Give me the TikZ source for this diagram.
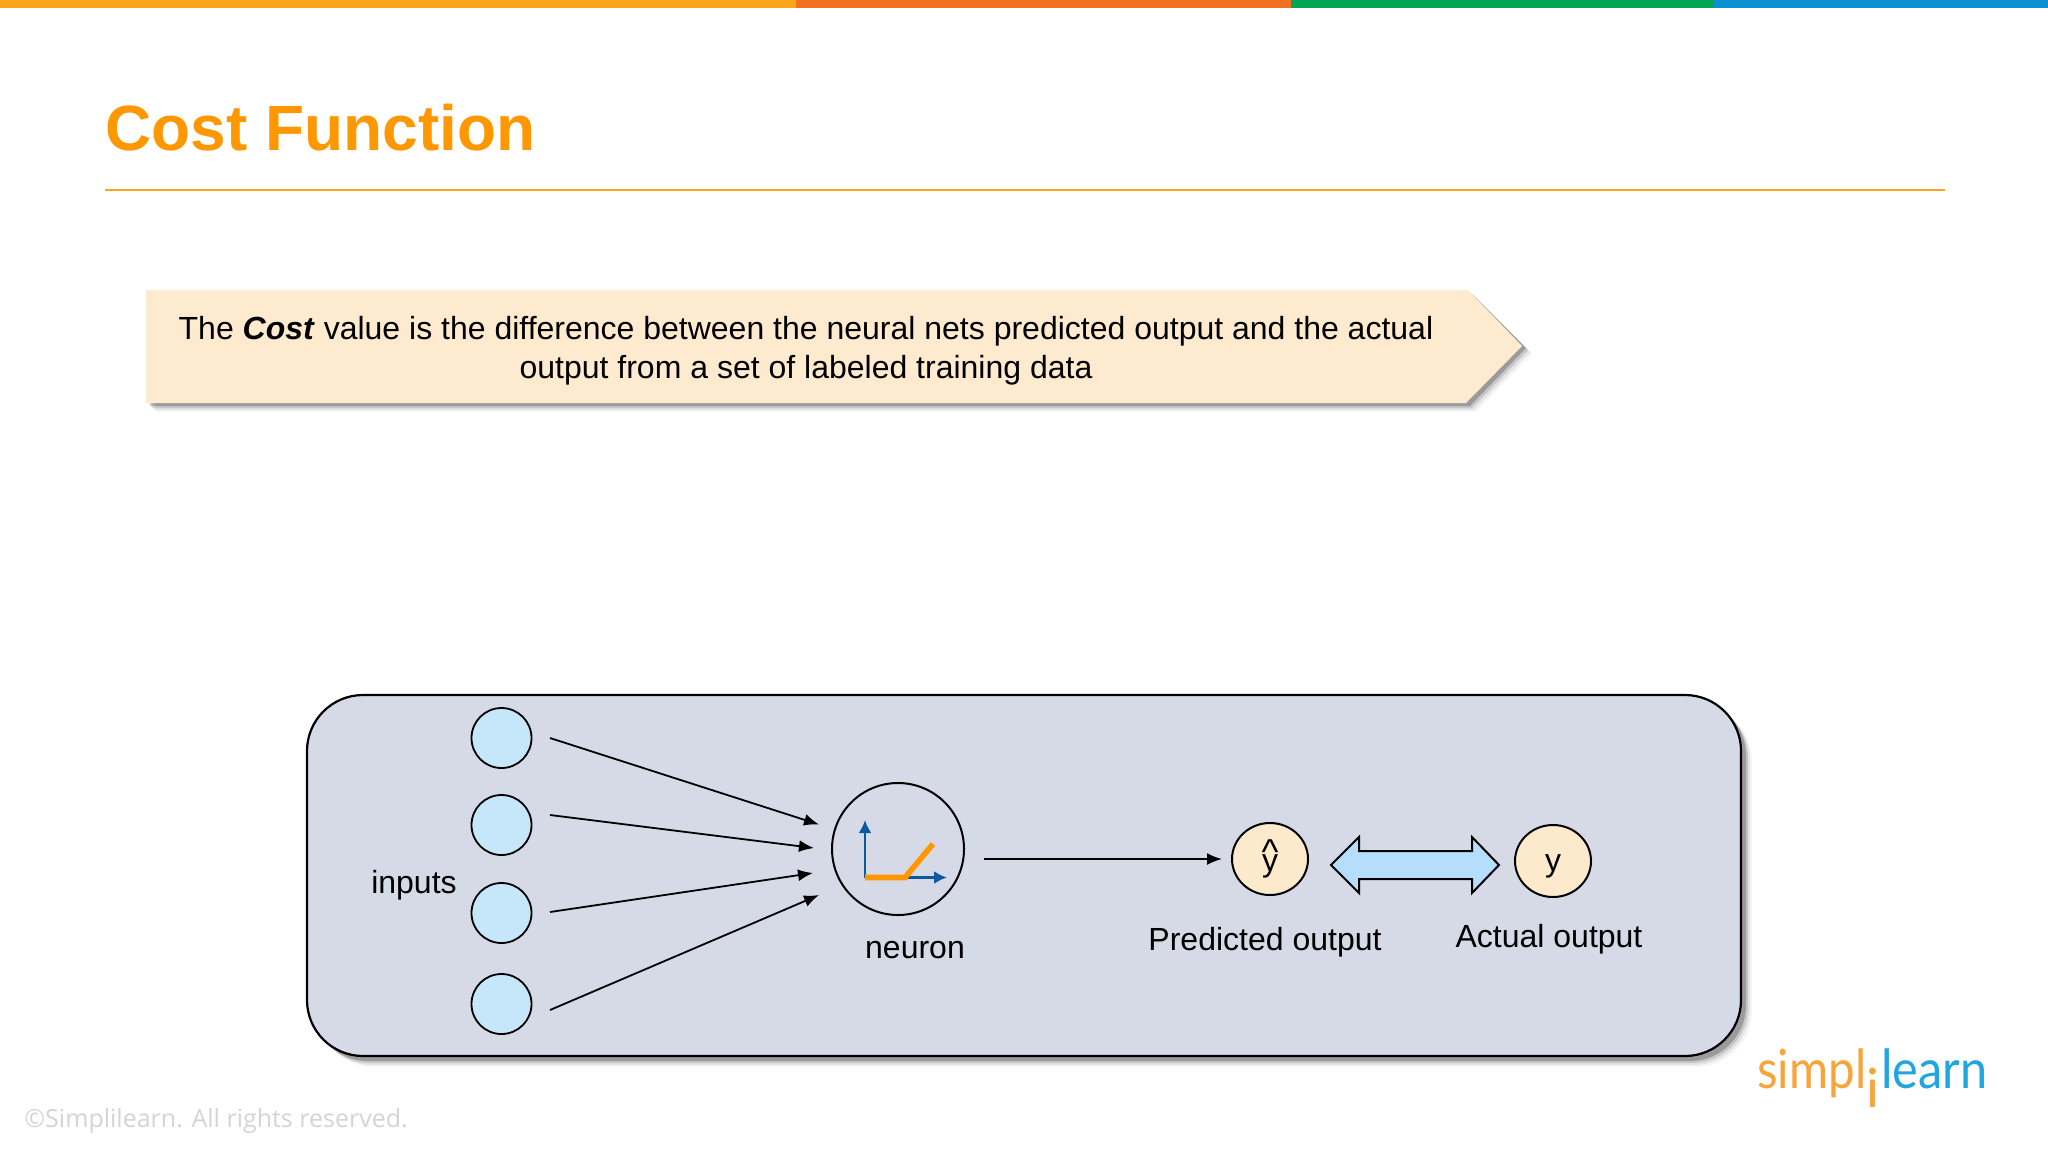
\documentclass[tikz,border=0pt]{standalone}
\usepackage{fontspec}
\setmainfont{Liberation Sans}
\newfontfamily\footfont{Open Sans}
\newfontfamily\logofont{Lato}
\usetikzlibrary{arrows.meta,shapes.geometric}
\definecolor{barA}{HTML}{F9A61A}
\definecolor{barB}{HTML}{F37021}
\definecolor{barC}{HTML}{00A651}
\definecolor{barD}{HTML}{0A8FD0}
\definecolor{titleC}{HTML}{FF9800}
\definecolor{ruleC}{HTML}{F5A623}
\definecolor{bannerC}{HTML}{FEEACF}
\definecolor{panelC}{HTML}{D6DAE6}
\definecolor{inC}{HTML}{C6E7F9}
\definecolor{outC}{HTML}{FDEACC}
\definecolor{dblC}{HTML}{B5DEFC}
\definecolor{axisC}{HTML}{0B5A9E}
\definecolor{curveC}{HTML}{FF9800}
\definecolor{logoO}{HTML}{F7A43B}
\definecolor{logoB}{HTML}{1FA5E0}
\definecolor{footC}{HTML}{D4D4D4}
\tikzset{
  x=0.5pt,y=-0.5pt,
  lbl/.style={font=\fontsize{16}{19}\selectfont,text=black,inner sep=0pt},
  incirc/.style={circle,draw=black,line width=0.9pt,fill=inC,minimum size=30pt,inner sep=0pt},
  outcirc/.style={ellipse,draw=black,line width=1pt,fill=outC,minimum width=38pt,minimum height=36pt,inner sep=0pt,font=\fontsize{16}{19}\selectfont},
  conn/.style={draw=black,line width=0.9pt,-{Latex[length=7.5pt,width=6pt]}},
}
\begin{document}
\begin{tikzpicture}
\useasboundingbox (0,0) rectangle (2048,1152);
\fill[white] (0,0) rectangle (2048,1152);
% top bar
\fill[barA] (0,0) rectangle (796,8);
\fill[barB] (796,0) rectangle (1291,8);
\fill[barC] (1291,0) rectangle (1713,8);
\fill[barD] (1713,0) rectangle (2048,8);
% title
\node[anchor=base west,inner sep=0pt,text=titleC,font=\fontsize{32}{38}\selectfont\bfseries] (title) at (105,150) {Cost Function};
\draw[ruleC,line width=1pt] (105,190) -- (1945,190);
% banner shadow
\foreach \d/\o in {10/0.04,8/0.07,6/0.12,4/0.22}{
  \fill[black,opacity=\o] (146+\d,290+\d) -- (1468+\d,290+\d) -- (1522+\d,346+\d-2) -- (1466+\d,403+\d-1) -- (146+\d,403+\d-1) -- cycle;
}
\fill[bannerC] (146,290) -- (1468,290) -- (1522,346) -- (1466,403) -- (146,403) -- cycle;
\node[lbl,align=center] (bannertext) at (806,350.5) {The \textbf{\textit{Cost}} value is the difference between the neural nets predicted output and the actual\\[0.5pt]output from a set of labeled training data};
% panel shadow
\foreach \d/\o in {11/0.04,9/0.07,7/0.12,5/0.22}{
  \fill[black,opacity=\o,rounded corners=28pt] (307+\d,695+\d) rectangle (1741+\d,1056+\d);
}
\draw[black,line width=1.1pt,fill=panelC,rounded corners=28pt] (307,695) rectangle (1741,1056);
% inputs
\node[incirc] (in1) at (501.5,738) {};
\node[incirc] (in2) at (501.5,825) {};
\node[incirc] (in3) at (501.5,913) {};
\node[incirc] (in4) at (501.5,1004) {};
\node[lbl] (inputs) at (414,885.5) {inputs};
% neuron
\node[circle,draw=black,line width=1pt,minimum size=66pt,inner sep=0pt] (neuron) at (898,849) {};
\node[lbl] (neuronlabel) at (915,950.5) {neuron};
\coordinate (o) at (865,877.5);
\coordinate (axt) at (865,820);
\coordinate (axr) at (947,877.5);
\coordinate (kink) at (905,877.5);
\coordinate (cend) at (933,844);
\draw[axisC,line width=1.3pt,-{Latex[length=6.5pt,width=6.5pt]}] (o) -- (axt);
\draw[axisC,line width=1.3pt,-{Latex[length=6.5pt,width=6.5pt]}] (o) -- (axr);
\draw[curveC,line width=2.8pt] (o) -- (kink) -- (cend);
% connectors
\coordinate (s1) at (550,738); \coordinate (e1) at (819,824.5);
\coordinate (s2) at (550,815); \coordinate (e2) at (814,848);
\coordinate (s3) at (550,912); \coordinate (e3) at (813,873);
\coordinate (s4) at (550,1010); \coordinate (e4) at (819,895);
\draw[conn] (s1) -- (e1);
\draw[conn] (s2) -- (e2);
\draw[conn] (s3) -- (e3);
\draw[conn] (s4) -- (e4);
% outputs
\node[outcirc] (pred) at (1270,859) {};
\node[lbl] (predy) at (1270,866) {y};
\node[lbl,font=\fontsize{18}{20}\selectfont] (predhat) at (1270,852) {\^{}};
\node[outcirc,text depth=0pt] (act) at (1553,861) {};
\node[lbl] (acty) at (1553,866) {y};
\coordinate (outs) at (984,859);
\coordinate (oute) at (1222,859);
\draw[conn] (outs) -- (oute);
\draw[black,line width=1pt,fill=dblC] (1331,865) -- (1359,837) -- (1359,851) -- (1472,851) -- (1472,837) -- (1499,865) -- (1472,893) -- (1472,879) -- (1359,879) -- (1359,893) -- cycle;
\node[lbl] (predlabel) at (1265,942) {Predicted output};
\node[lbl] (actlabel) at (1549,939) {Actual output};
% footer
\node[anchor=base west,inner sep=0pt,text=footC,font=\footfont\fontsize{12.5}{15}\selectfont] (foot) at (24,1127) {©Simplilearn. All rights reserved.};
% logo
\node[anchor=base west,inner sep=0pt,text=logoO,font=\logofont\fontsize{27}{30}\selectfont,xscale=0.88] (logoa) at (1757,1088) {simpl};
\node[anchor=base,inner sep=0pt,text=logoO,font=\logofont\fontsize{27}{30}\selectfont] (logoi) at (1873,1107) {i};
\node[anchor=base west,inner sep=0pt,text=logoB,font=\logofont\fontsize{27}{30}\selectfont,xscale=0.9] (logob) at (1881,1088) {learn};
\end{tikzpicture}
\end{document}
